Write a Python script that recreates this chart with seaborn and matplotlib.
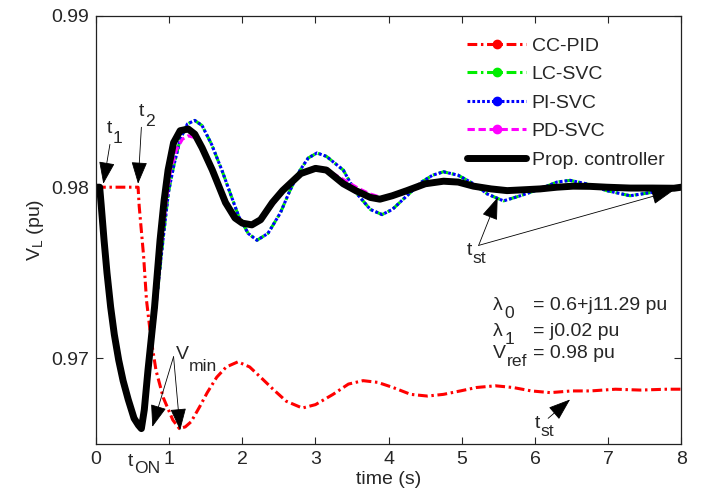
import numpy as np
import pandas as pd
import seaborn as sns
import matplotlib
matplotlib.use("Agg")
import matplotlib.pyplot as plt
from matplotlib.lines import Line2D

# --- values ---
cc_pid_t = [0, 0.05, 0.575, 0.59, 0.65, 0.69, 0.75, 0.82, 0.92, 1.05, 1.14, 1.22, 1.30,
            1.42, 1.52, 1.65, 1.78, 1.94, 2.10, 2.25, 2.42, 2.60, 2.82, 3.00, 3.24,
            3.45, 3.65, 3.85, 4.06, 4.30, 4.53, 4.75, 4.98, 5.20, 5.46, 5.70, 5.95,
            6.21, 6.50, 6.76, 7.10, 7.44, 7.80, 8.00]
cc_pid_v = [0.9800, 0.9800, 0.9800, 0.9789, 0.9760, 0.9734, 0.9712, 0.9693, 0.9677,
            0.9664, 0.9659, 0.9660, 0.9663, 0.9672, 0.9680, 0.9689, 0.9695, 0.9698,
            0.9695, 0.9689, 0.9682, 0.9675, 0.9671, 0.9673, 0.9679, 0.9685, 0.9687,
            0.9686, 0.9683, 0.9679, 0.9678, 0.9679, 0.9681, 0.9683, 0.9684, 0.9683,
            0.9681, 0.9680, 0.9681, 0.9681, 0.9682, 0.96815, 0.9682, 0.9682]

pi_svc_t = [0, 0.05, 0.07, 0.11, 0.15, 0.20, 0.25, 0.31, 0.37, 0.44, 0.52, 0.58, 0.62,
            0.66, 0.72, 0.80, 0.92, 0.99, 1.06, 1.15, 1.25, 1.35, 1.45, 1.58, 1.72,
            1.83, 1.95, 2.08, 2.20, 2.35, 2.52, 2.65, 2.79, 2.90, 3.02, 3.15, 3.38,
            3.55, 3.75, 3.91, 4.05, 4.25, 4.45, 4.60, 4.75, 4.95, 5.16, 5.35, 5.57,
            5.80, 6.07, 6.30, 6.48, 6.70, 6.98, 7.30, 7.60, 7.90, 8.00]
pi_svc_v = [0.9800, 0.9800, 0.9790, 0.9769, 0.9750, 0.9730, 0.9714, 0.9699, 0.9687,
            0.9676, 0.9665, 0.9661, 0.9659, 0.9668, 0.9690, 0.9723, 0.9771, 0.9797,
            0.9812, 0.9828, 0.9837, 0.9839, 0.9836, 0.9825, 0.9810, 0.9797, 0.9783,
            0.9773, 0.9769, 0.9773, 0.9785, 0.9798, 0.9810, 0.9817, 0.9820, 0.9818,
            0.9810, 0.9797, 0.9787, 0.9784, 0.9787, 0.9795, 0.9803, 0.9807, 0.9809,
            0.9807, 0.9802, 0.9796, 0.9792, 0.9795, 0.9799, 0.9803, 0.9804, 0.9802,
            0.9798, 0.9795, 0.9797, 0.9799, 0.9800]

lc_svc_t = list(pi_svc_t)
lc_svc_v = [0.9800, 0.9800, 0.9790, 0.9769, 0.9750, 0.9730, 0.9714, 0.9699, 0.9687,
            0.9676, 0.9665, 0.9661, 0.9659, 0.9668, 0.9690, 0.9723, 0.9771, 0.9797,
            0.9812, 0.9828, 0.9837, 0.9839, 0.9836, 0.9825, 0.9810, 0.9797, 0.9783,
            0.9773, 0.9769, 0.9773, 0.9785, 0.9798, 0.9810, 0.9817, 0.9820, 0.9818,
            0.9810, 0.9797, 0.9787, 0.9784, 0.9787, 0.9795, 0.9803, 0.9807, 0.9809,
            0.9807, 0.9802, 0.9796, 0.9792, 0.9795, 0.9799, 0.9803, 0.9804, 0.9802,
            0.9798, 0.9795, 0.9797, 0.9799, 0.9800]

pd_svc_t = [0, 0.05, 0.07, 0.11, 0.15, 0.20, 0.25, 0.31, 0.37, 0.44, 0.52, 0.58, 0.62,
            0.66, 0.72, 0.82, 0.90, 0.96, 1.02, 1.10, 1.18, 1.26, 1.35, 1.45, 1.59,
            1.75, 1.90, 2.00, 2.12, 2.25, 2.42, 2.65, 2.82, 3.02, 3.16, 3.40, 3.60,
            3.75, 3.90, 4.10, 4.30, 4.55, 4.80, 5.00, 5.20, 5.45, 5.65, 5.90, 6.10,
            6.40, 6.70, 7.00, 7.50, 8.00]
pd_svc_v = [0.9800, 0.9800, 0.9790, 0.9769, 0.9750, 0.9730, 0.9714, 0.9699, 0.9687,
            0.9676, 0.9665, 0.9661, 0.9659, 0.9670, 0.9693, 0.9730, 0.9769, 0.9792,
            0.9810, 0.9822, 0.9828, 0.9830, 0.9829, 0.9823, 0.9811, 0.9793, 0.9783,
            0.9779, 0.9778, 0.9781, 0.9790, 0.9802, 0.9808, 0.9811, 0.9810, 0.9804,
            0.9799, 0.9796, 0.9794, 0.9795, 0.9798, 0.9802, 0.9804, 0.9803, 0.9801,
            0.9799, 0.9798, 0.9799, 0.9800, 0.9801, 0.9801, 0.9800, 0.9800, 0.9800]

prop_t = [0, 0.05, 0.07, 0.11, 0.15, 0.20, 0.25, 0.31, 0.37, 0.44, 0.52, 0.58, 0.62,
          0.66, 0.71, 0.80, 0.875, 0.93, 0.985, 1.06, 1.15, 1.26, 1.35, 1.45, 1.59,
          1.77, 1.90, 2.00, 2.13, 2.25, 2.41, 2.55, 2.65, 2.80, 3.00, 3.15, 3.38,
          3.55, 3.75, 3.88, 4.05, 4.25, 4.50, 4.75, 4.95, 5.16, 5.40, 5.62, 5.85,
          6.07, 6.30, 6.52, 6.75, 6.98, 7.30, 7.60, 7.90, 8.00]
prop_v = [0.9800, 0.9800, 0.9790, 0.9769, 0.9750, 0.9730, 0.9714, 0.9699, 0.9687,
          0.9676, 0.9665, 0.9661, 0.9659, 0.9670, 0.9693, 0.9730, 0.9769, 0.9792,
          0.9810, 0.9826, 0.9833, 0.9834, 0.9831, 0.9823, 0.9810, 0.9791, 0.9782,
          0.9779, 0.9778, 0.9781, 0.9791, 0.9798, 0.9802, 0.9808, 0.9811, 0.9810,
          0.9802, 0.9798, 0.9794, 0.9793, 0.9795, 0.9798, 0.9802, 0.98035, 0.9803,
          0.98006, 0.9799, 0.9798, 0.97985, 0.9799, 0.9800, 0.98006, 0.98005, 0.9800,
          0.97995, 0.97995, 0.97994, 0.9800]

labels = ["CC-PID", "LC-SVC", "PI-SVC", "PD-SVC", "Prop. controller"]
colors = ["#ff0000", "#00ee00", "#0000ff", "#ff00ff", "#000000"]

series = {
    "CC-PID": (cc_pid_t, cc_pid_v),
    "LC-SVC": (lc_svc_t, lc_svc_v),
    "PI-SVC": (pi_svc_t, pi_svc_v),
    "PD-SVC": (pd_svc_t, pd_svc_v),
    "Prop. controller": (prop_t, prop_v),
}

styles = {
    "CC-PID": dict(lw=2.2, linestyle=(0, (3.2, 1.2, 0.8, 1.2))),
    "LC-SVC": dict(lw=2.2, linestyle=(0, (3.2, 1.2, 0.8, 1.2))),
    "PI-SVC": dict(lw=2.2, linestyle=(0, (0.9, 0.7))),
    "PD-SVC": dict(lw=2.2, linestyle=(0, (2.4, 1.2))),
    "Prop. controller": dict(lw=5.0, linestyle="-"),
}

sns.set_style("ticks")
plt.rcParams['font.family'] = ['Liberation Sans', 'DejaVu Sans']
plt.rcParams['mathtext.fontset'] = 'custom'
plt.rcParams['mathtext.rm'] = 'Liberation Sans'
plt.rcParams['mathtext.it'] = 'Liberation Sans'

fig = plt.figure(figsize=(7.06, 5.0), dpi=100)
ax = fig.add_axes([0.136, 0.112, 0.829, 0.856])

for name, color in zip(labels, colors):
    t, v = series[name]
    df = pd.DataFrame({"time": t, "V": v})
    sns.lineplot(data=df, x="time", y="V", ax=ax, color=color, sort=False,
                 estimator=None, **styles[name])

ax.set_xlim(0, 8)
ax.set_ylim(0.965, 0.99)
ax.set_xticks(range(0, 9))
ax.set_yticks([0.97, 0.98, 0.99])
ax.set_yticklabels(["0.97", "0.98", "0.99"])
ax.tick_params(direction="in", length=5, top=True, right=True, labelsize=14,
               width=0.8, pad=5)
for sp in ax.spines.values():
    sp.set_linewidth(0.9)
    sp.set_color("#222222")
ax.set_xlabel("time (s)", fontsize=14, labelpad=2)
ax.set_ylabel("V$_L$ (pu)", fontsize=14, labelpad=4)

# legend with a dot in the middle of each line, like the original
handles = []
for name, color in zip(labels, colors):
    st = styles[name]
    if name == "Prop. controller":
        h = Line2D([], [], color=color, lw=st["lw"], linestyle=st["linestyle"])
    else:
        h = Line2D([], [], color=color, lw=st["lw"], linestyle=st["linestyle"],
                   marker="o", markersize=6)
    handles.append(h)
ax.legend(handles, labels, loc="upper right", bbox_to_anchor=(0.991, 0.978),
          frameon=False, fontsize=14, numpoints=1, handlelength=3.0,
          labelspacing=0.56, handletextpad=0.3, borderaxespad=0.2)


def sub_label(x, y, main, sub, dx, dy=-7, fs=14):
    # MATLAB-style subscript: nearly full size, dropped below the baseline
    ax.annotate(main, (x, y), fontsize=fs, ha="left", va="center",
                annotation_clip=False)
    ax.annotate(sub, (x, y), xytext=(dx, dy), textcoords="offset points",
                fontsize=fs * 0.9, ha="left", va="center", annotation_clip=False)


# annotations
arrow = dict(arrowstyle="-|>,head_length=1.0,head_width=0.36", color="k",
             lw=0.6, shrinkA=0, shrinkB=0, mutation_scale=14)
ax.annotate("", xy=(0.1, 0.9802), xytext=(0.19, 0.9825), arrowprops=arrow)
sub_label(0.15, 0.9834, "t", "1", 4.0)
ax.annotate("", xy=(0.575, 0.9802), xytext=(0.62, 0.9835), arrowprops=arrow)
sub_label(0.59, 0.9844, "t", "2", 4.0)

ax.annotate("", xy=(0.77, 0.9660), xytext=(1.06, 0.9701), arrowprops=arrow)
ax.annotate("", xy=(1.15, 0.9658), xytext=(1.06, 0.9701), arrowprops=arrow)
sub_label(1.09, 0.9702, "V", "min", 9.5, dy=-8)
sub_label(0.44, 0.9640, "t", "ON", 4.5, dy=-5)

ax.annotate("", xy=(5.49, 0.9794), xytext=(5.23, 0.9766), arrowprops=arrow)
ax.annotate("", xy=(7.89, 0.9798), xytext=(5.23, 0.9766), arrowprops=arrow)
sub_label(5.07, 0.9763, "t", "st", 4.0, dy=-6)
ax.annotate("", xy=(6.48, 0.9676), xytext=(6.18, 0.9665), arrowprops=arrow)
sub_label(6.00, 0.9662, "t", "st", 4.0, dy=-6)

# operating point text
sub_label(5.43, 0.9731, "\u03bb", "0", 8.0, dy=-6)
ax.text(5.97, 0.9731, "= 0.6+j11.29 pu", fontsize=14, ha="left", va="center")
sub_label(5.43, 0.9716, "\u03bb", "1", 8.0, dy=-6)
ax.text(5.97, 0.9716, "= j0.02 pu", fontsize=14, ha="left", va="center")
sub_label(5.43, 0.9703, "V", "ref", 9.5, dy=-6)
ax.text(5.97, 0.9703, "= 0.98 pu", fontsize=14, ha="left", va="center")

fig.savefig("out.png", dpi=100)
